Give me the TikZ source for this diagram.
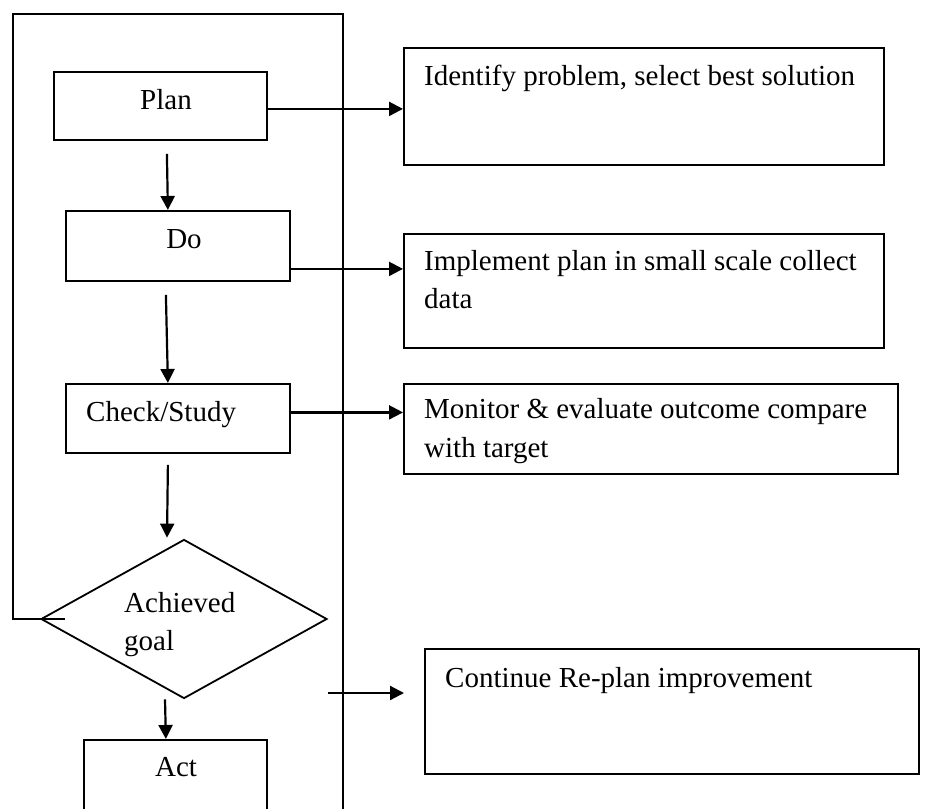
\documentclass[tikz,border=0pt]{standalone}
\usepackage{fontspec}
\setmainfont{Liberation Serif}
\usetikzlibrary{arrows.meta,shapes.geometric}
\tikzset{
  lw/.style={line width=1.8pt},
  box/.style={draw, lw, inner sep=0pt, anchor=north west},
  txt/.style={inner sep=0pt, font=\fontsize{29}{35}\selectfont},
  arr/.style={line width=2.2pt, -{Triangle[length=14pt,width=14pt]}},
  dec/.style={draw, lw, shape=diamond, inner sep=0pt, minimum width=286pt, minimum height=159pt}
}
\begin{document}
\begin{tikzpicture}[x=1pt,y=-1pt]
\clip (0,0) rectangle (925,808);
\fill[white] (0,0) rectangle (925,808);
% left column boxes
\node[box, minimum width=213pt, minimum height=68pt] (plan) at (53,71) {};
\node[txt, anchor=base] (plant) at (166,109) {Plan};
\node[box, minimum width=224pt, minimum height=70pt] (do) at (65,210) {};
\node[txt, anchor=base] (dot) at (184,248) {Do};
\node[box, minimum width=224pt, minimum height=69pt] (chk) at (65,383) {};
\node[txt, anchor=base west] (chkt) at (86,421) {Check/Study};
\node[dec] (dia) at (184,619) {};
\node[txt, anchor=base west] (diat1) at (124,612) {Achieved};
\node[txt, anchor=base west] (diat2) at (124,650) {goal};
\node[box, minimum width=183pt, minimum height=100pt] (act) at (83,739) {};
\node[txt, anchor=base] (actt) at (176,776) {Act};
% right column boxes
\node[box, minimum width=480pt, minimum height=117pt] (b1) at (403,47) {};
\node[txt, anchor=base west] (b1t) at (424,85) {Identify problem, select best solution};
\node[box, minimum width=480pt, minimum height=114pt] (b2) at (403,233) {};
\node[txt, anchor=base west] (b2t1) at (424,270) {Implement plan in small scale collect};
\node[txt, anchor=base west] (b2t2) at (424,308) {data};
\node[box, minimum width=494pt, minimum height=90pt] (b3) at (403,383) {};
\node[txt, anchor=base west] (b3t1) at (424,418) {Monitor \& evaluate outcome compare};
\node[txt, anchor=base west] (b3t2) at (424,457) {with target};
\node[box, minimum width=494pt, minimum height=125pt] (b4) at (424,648) {};
\node[txt, anchor=base west] (b4t) at (445,687) {Continue Re-plan improvement};
% outer frame (loop back)
\coordinate (fTL) at (13,14);
\coordinate (fTR) at (343,14);
\coordinate (fBR) at (343,840);
\draw[lw] ([xshift=25pt]dia.west) -| (fTL) -- (fTR) -- (fBR);
% vertical arrows
\draw[arr] ([xshift=6.5pt]plan.south) ++(0,13) -- ([xshift=-10pt]do.north);
\draw[arr] ([xshift=-12pt]do.south) ++(0,13) -- ([xshift=-10pt]chk.north);
\draw[arr] ([xshift=-10pt]chk.south) ++(0,11) -- ([xshift=-17pt,yshift=1pt]dia.north);
\draw[arr] ([xshift=-19pt]dia.south) -- ([xshift=-9.5pt]act.north);
% horizontal arrows
\draw[arr] ([yshift=-3pt]plan.east) -- ([yshift=-3pt]plan.east -| b1.west);
\draw[arr] ([yshift=-23pt]do.east) -- ([yshift=-23pt]do.east -| b2.west);
\draw[arr] ([yshift=6pt]chk.east) -- ([yshift=6pt]chk.east -| b3.west);
\coordinate (cs) at ([yshift=-74pt]dia.east);
\draw[arr, shorten >=20pt] (cs) -- (cs -| b4.west);
\end{tikzpicture}
\end{document}
